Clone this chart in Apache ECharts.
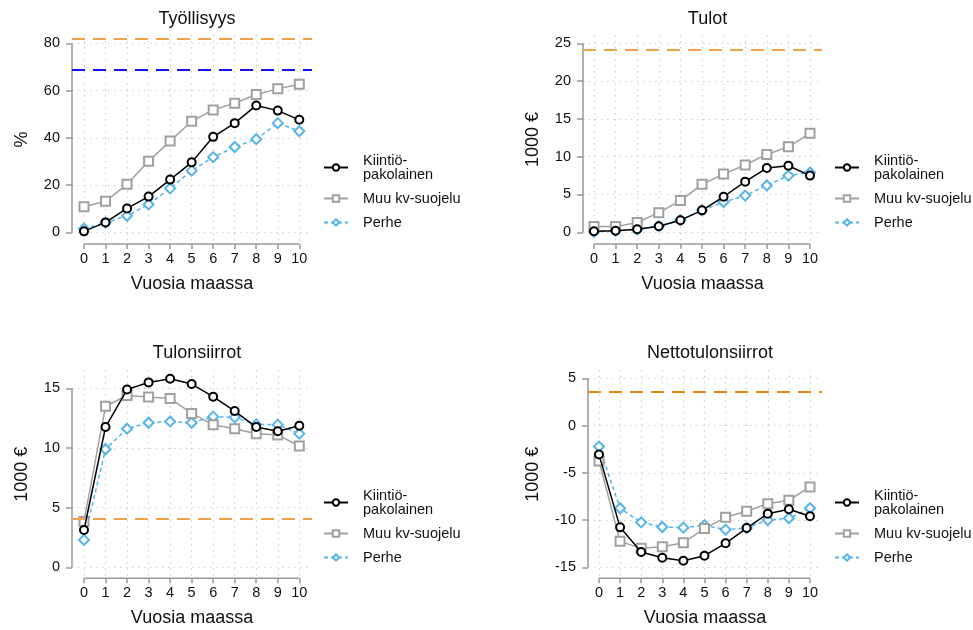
<!DOCTYPE html>
<html><head><meta charset="utf-8">
<script src="https://cdn.jsdelivr.net/npm/echarts@6/dist/echarts.min.js"></script>
<style>html,body{margin:0;padding:0;background:#fff}#c{width:973px;height:630px}</style>
</head><body><div id="c"></div>
<script>
// ---------- data ----------
const years = [0,1,2,3,4,5,6,7,8,9,10];
const groupNames = ['Kiintiö-\npakolainen', 'Muu kv-suojelu', 'Perhe'];
const panelTitles = ['Työllisyys', 'Tulot', 'Tulonsiirrot', 'Nettotulonsiirrot'];
const yAxisNames = ['%', '1000 €', '1000 €', '1000 €'];
const xAxisName = 'Vuosia maassa';

// Työllisyys (%)
const tyoKiintio = [0.4, 4.2, 10.1, 15.1, 22.3, 29.6, 40.4, 46.2, 53.7, 51.5, 47.6];
const tyoMuu     = [10.8, 13.1, 20.3, 30.1, 38.6, 47.0, 51.8, 54.6, 58.3, 60.7, 62.7];
const tyoPerhe   = [1.5, 4.1, 7.0, 11.8, 18.6, 26.1, 31.8, 36.1, 39.4, 46.2, 42.8];
const tyoTicks   = [0, 20, 40, 60, 80];
const tyoRefs    = [82, 69];

// Tulot (1000 €)
const tulKiintio = [0.13, 0.2, 0.4, 0.8, 1.6, 2.9, 4.7, 6.7, 8.5, 8.8, 7.5];
const tulMuu     = [0.75, 0.75, 1.3, 2.6, 4.2, 6.35, 7.7, 8.9, 10.3, 11.3, 13.1];
const tulPerhe   = [0.05, 0.2, 0.35, 0.8, 1.6, 2.9, 4.0, 4.85, 6.2, 7.5, 7.9];
const tulTicks   = [0, 5, 10, 15, 20, 25];
const tulRefs    = [24.1];

// Tulonsiirrot (1000 €)
const tsKiintio = [3.13, 11.76, 14.9, 15.5, 15.8, 15.36, 14.3, 13.1, 11.76, 11.4, 11.87];
const tsMuu     = [3.85, 13.5, 14.4, 14.27, 14.16, 12.9, 11.96, 11.62, 11.2, 11.1, 10.17];
const tsPerhe   = [2.3, 9.9, 11.62, 12.12, 12.23, 12.12, 12.63, 12.57, 11.98, 11.96, 11.2];
const tsTicks   = [0, 5, 10, 15];
const tsRefs    = [4.05];

// Nettotulonsiirrot (1000 €)
const ntKiintio = [-3.07, -10.77, -13.38, -13.98, -14.3, -13.77, -12.46, -10.84, -9.32, -8.86, -9.6];
const ntMuu     = [-3.74, -12.25, -12.99, -12.81, -12.39, -10.9, -9.71, -9.07, -8.26, -7.9, -6.5];
const ntPerhe   = [-2.22, -8.75, -10.24, -10.73, -10.8, -10.55, -11.01, -10.84, -9.99, -9.81, -8.75];
const ntTicks   = [-15, -10, -5, 0, 5];
const ntRefs    = [3.53];

// ---------- layout / style ----------
const FONT = 'Liberation Sans, Arial, Helvetica, sans-serif';
const ORANGE = '#EFA247', ORANGE2 = '#E8870E', NAVY = '#1414F0';
const groupStyles = [
  {color:'#000000', symbol:'emptyCircle', size:8, dash:'solid'},
  {color:'#A0A0A0', symbol:'emptyRect', size:9, dash:'solid'},
  {color:'#56B4E9', symbol:'emptyDiamond', size:10, dash:[4,3]}
];
const panels = [
  {series:[tyoKiintio, tyoMuu, tyoPerhe], ticks:tyoTicks, refs:tyoRefs, refColors:[ORANGE, NAVY],
   grid:{left:72, top:35, width:240, height:209}, x:[-0.557, 10.59], y:[-4.95, 83.5], legend:{left:318, top:148}, titleTop:5, yGap:41},
  {series:[tulKiintio, tulMuu, tulPerhe], ticks:tulTicks, refs:tulRefs, refColors:[ORANGE],
   grid:{left:583, top:35, width:239, height:209}, x:[-0.509, 10.556], y:[-1.55, 26.1], legend:{left:829, top:148}, titleTop:5, yGap:41},
  {series:[tsKiintio, tsMuu, tsPerhe], ticks:tsTicks, refs:tsRefs, refColors:[ORANGE],
   grid:{left:72, top:370, width:240, height:208.3}, x:[-0.557, 10.59], y:[-0.92, 16.54], legend:{left:318, top:483}, titleTop:339, yGap:41},
  {series:[ntKiintio, ntMuu, ntPerhe], ticks:ntTicks, refs:ntRefs, refColors:[ORANGE2],
   grid:{left:588, top:370, width:234, height:208.3}, x:[-0.521, 10.57], y:[-16.16, 5.88], legend:{left:829, top:483}, titleTop:339, yGap:46}
];

const AXIS_GRAY = '#999999';
const grids = [], xAxes = [], yAxes = [], series = [], titles = [], legends = [];

panels.forEach((p, i) => {
  grids.push(Object.assign({containLabel:false}, p.grid));
  titles.push({text: panelTitles[i], left: p.grid.left + p.grid.width/2, top: p.titleTop, textAlign:'center',
    textStyle:{fontFamily:FONT, fontSize:18, fontWeight:'normal', color:'#111'}});
  xAxes.push({gridIndex:i, type:'value', min:p.x[0], max:p.x[1], position:'bottom',
    name:xAxisName, nameLocation:'middle', nameGap:31,
    nameTextStyle:{fontFamily:FONT, fontSize:18, color:'#111'},
    axisLine:{show:false, onZero:false},
    axisTick:{show:true, customValues:years, length:5, lineStyle:{color:AXIS_GRAY, width:1.5}},
    axisLabel:{customValues:years, fontFamily:FONT, fontSize:14.5, color:'#111', margin:7},
    splitLine:{show:true, lineStyle:{type:[1.5,4.5], color:'#CFCFCF', width:1.2}}
  });
  yAxes.push({gridIndex:i, type:'value', min:p.y[0], max:p.y[1], position:'left',
    name:yAxisNames[i], nameLocation:'middle', nameGap:p.yGap, nameRotate:90,
    nameTextStyle:{fontFamily:FONT, fontSize:18, color:'#111'},
    axisLine:{show:false, onZero:false},
    axisTick:{show:true, customValues:p.ticks, length:6, lineStyle:{color:AXIS_GRAY, width:1.5}},
    axisLabel:{customValues:p.ticks, fontFamily:FONT, fontSize:14.5, color:'#111', margin:12},
    splitLine:{show:true, lineStyle:{type:[1.5,4.5], color:'#CFCFCF', width:1.2}}
  });
  // axis lines spanning only the tick range
  const tmin = Math.min(...p.ticks), tmax = Math.max(...p.ticks);
  series.push({type:'line', xAxisIndex:i, yAxisIndex:i, silent:true, clip:false, symbol:'none',
    data:[[p.x[0], tmin], [p.x[0], tmax]], lineStyle:{color:AXIS_GRAY, width:1.5}, z:1});
  series.push({type:'line', xAxisIndex:i, yAxisIndex:i, silent:true, clip:false, symbol:'none',
    data:[[years[0], p.y[0]], [years[years.length-1], p.y[0]]], lineStyle:{color:AXIS_GRAY, width:1.5}, z:1});
  // reference lines
  series.push({type:'line', xAxisIndex:i, yAxisIndex:i, silent:true, data:[], z:2,
    markLine:{silent:true, symbol:'none', label:{show:false},
      data: p.refs.map((v, k) => ({yAxis:v, lineStyle:{color:p.refColors[k], width:2, type:[13,8]}}))}});
  p.series.forEach((vals, k) => {
    const st = groupStyles[k];
    series.push({type:'line', name:groupNames[k], xAxisIndex:i, yAxisIndex:i,
      data: years.map((x, j) => [x, vals[j]]),
      symbol: st.symbol, symbolSize: st.size, showAllSymbol:true,
      itemStyle:{color:st.color, borderWidth:1.5},
      lineStyle:{color:st.color, width:1.5, type:st.dash},
      z: 5 - k
    });
  });
  legends.push({orient:'vertical', left:p.legend.left, top:p.legend.top,
    itemWidth:24, itemHeight:8, itemGap:9, data:groupNames,
    textStyle:{fontFamily:FONT, fontSize:14.5, color:'#111', lineHeight:14, padding:[0,0,0,10]}, selectedMode:false});
});

const chart = echarts.init(document.getElementById('c'), null, {renderer:'canvas'});
chart.setOption({animation:false, backgroundColor:'#fff', title:titles, grid:grids, xAxis:xAxes, yAxis:yAxes, legend:legends, series:series});
</script></body></html>
